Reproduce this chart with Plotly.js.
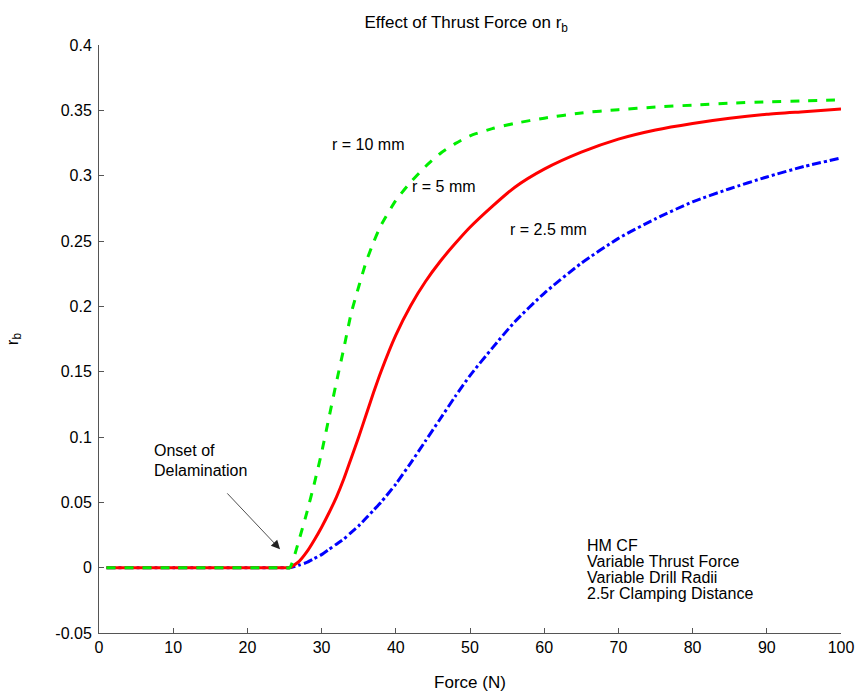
<!DOCTYPE html>
<html>
<head>
<meta charset="utf-8">
<script src="https://cdn.plot.ly/plotly-3.0.1.min.js"></script>
<style>html,body{margin:0;padding:0;background:#fff;}#chart{width:857px;height:694px;}</style>
</head>
<body>
<div id="chart"></div>
<script>
// Force values (N)
var force = [1, 10, 20, 24, 25, 25.7, 27, 28, 29, 30, 31, 32, 33, 34, 35, 36, 37, 38, 40, 42, 44, 46, 48, 50, 53, 56, 60, 65, 70, 75, 80, 85, 90, 95, 100];
// r_b for drill radius r = 10 mm
var rb10 = [0, 0, 0, 0, 0, 0, 0.022, 0.042, 0.064, 0.088, 0.115, 0.142, 0.168, 0.195, 0.215, 0.234, 0.249, 0.262, 0.281, 0.295, 0.307, 0.317, 0.3245, 0.3305, 0.336, 0.340, 0.344, 0.348, 0.3505, 0.3525, 0.354, 0.3555, 0.3565, 0.3573, 0.358];
// r_b for r = 5 mm
var rb5 = [0, 0, 0, 0, 0, 0, 0.005, 0.012, 0.021, 0.031, 0.042, 0.054, 0.068, 0.084, 0.100, 0.117, 0.134, 0.150, 0.178, 0.2005, 0.219, 0.2345, 0.248, 0.2605, 0.2765, 0.291, 0.305, 0.318, 0.328, 0.335, 0.340, 0.344, 0.347, 0.349, 0.351];
// r_b for r = 2.5 mm
var rb25 = [0, 0, 0, 0, 0, 0, 0.002, 0.004, 0.007, 0.010, 0.014, 0.018, 0.022, 0.027, 0.032, 0.038, 0.044, 0.050, 0.064, 0.080, 0.097, 0.114, 0.131, 0.147, 0.168, 0.188, 0.210, 0.233, 0.252, 0.267, 0.280, 0.290, 0.299, 0.307, 0.3135];

var xTickVals = [0, 10, 20, 30, 40, 50, 60, 70, 80, 90, 100];
var yTickVals = [-0.05, 0, 0.05, 0.1, 0.15, 0.2, 0.25, 0.3, 0.35, 0.4];
var yTickText = ["-0.05", "0", "0.05", "0.1", "0.15", "0.2", "0.25", "0.3", "0.35", "0.4"];

var infoLines = ["HM CF", "Variable Thrust Force", "Variable Drill Radii", "2.5r Clamping Distance"];
var infoY = [0.0166, 0.0049, -0.0079, -0.0196];

var FONT = "Liberation Sans, Arial, Helvetica, sans-serif";

var traces = [
  {x: force, y: rb25, mode: "lines", line: {color: "#0000ff", width: 3, dash: "dashdot", shape: "spline", smoothing: 0.6}, name: "r = 2.5 mm"},
  {x: force, y: rb5, mode: "lines", line: {color: "#ff0000", width: 3, shape: "spline", smoothing: 0.6}, name: "r = 5 mm"},
  {x: force, y: rb10, mode: "lines", line: {color: "#00ee00", width: 3, dash: "dash", shape: "spline", smoothing: 0.6}, name: "r = 10 mm"}
];

var ann = [
  {x: 31.1, y: 0.3236, text: "r = 10 mm", xanchor: "left", yanchor: "middle", showarrow: false},
  {x: 41.9, y: 0.2914, text: "r = 5 mm", xanchor: "left", yanchor: "middle", showarrow: false},
  {x: 55.1, y: 0.2585, text: "r = 2.5 mm", xanchor: "left", yanchor: "middle", showarrow: false},
  {x: 7.1, y: 0.0894, text: "Onset of", xanchor: "left", yanchor: "middle", showarrow: false},
  {x: 7.1, y: 0.0741, text: "Delamination", xanchor: "left", yanchor: "middle", showarrow: false},
  {x: 24.4, y: 0.0141, ax: 17.1, ay: 0.058, axref: "x", ayref: "y", text: "", showarrow: true,
   arrowhead: 2, arrowsize: 2.2, arrowwidth: 0.8, arrowcolor: "#222"}
];
for (var i = 0; i < infoLines.length; i++) {
  ann.push({x: 65.5, y: infoY[i], text: infoLines[i], xanchor: "left", yanchor: "middle", showarrow: false});
}

var layout = {
  width: 857, height: 694,
  margin: {l: 99, r: 16, t: 45, b: 61, pad: 0},
  paper_bgcolor: "#fff", plot_bgcolor: "#fff",
  showlegend: false,
  font: {family: FONT, size: 16, color: "#000"},
  title: {text: "Effect of Thrust Force on r<sub>b</sub>", font: {family: FONT, size: 17, color: "#000"}, x: 0.544, xanchor: "center", y: 0.968, yanchor: "middle"},
  xaxis: {
    range: [0, 100], tickvals: xTickVals, ticks: "inside", ticklen: 5, tickcolor: "#555",
    showline: true, linecolor: "#555", linewidth: 1, mirror: false, showgrid: false, zeroline: false,
    tickfont: {family: FONT, size: 16, color: "#000"},
    title: {text: "Force (N)", font: {family: FONT, size: 17, color: "#000"}, standoff: 20}
  },
  yaxis: {
    range: [-0.05, 0.4], tickvals: yTickVals, ticktext: yTickText, ticks: "inside", ticklen: 5, tickcolor: "#555",
    showline: true, linecolor: "#555", linewidth: 1, mirror: false, showgrid: false, zeroline: false,
    ticklabelstandoff: 3,
    tickfont: {family: FONT, size: 16, color: "#000"},
    title: {text: "r<sub>b</sub>", font: {family: FONT, size: 17, color: "#000"}, standoff: 32}
  },
  annotations: ann
};

Plotly.newPlot("chart", traces, layout, {displayModeBar: false, staticPlot: true});
</script>
</body>
</html>
